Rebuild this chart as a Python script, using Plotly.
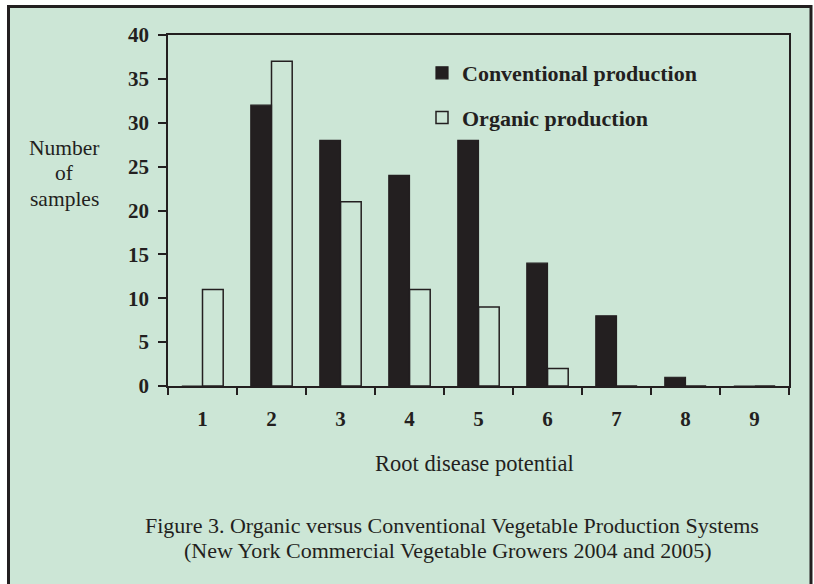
import plotly.graph_objects as go

categories = ["1", "2", "3", "4", "5", "6", "7", "8", "9"]
conventional = [0, 32, 28, 24, 28, 14, 8, 1, 0]
organic = [11, 37, 21, 11, 9, 2, 0, 0, 0]
y_ticks = [0, 5, 10, 15, 20, 25, 30, 35, 40]

BG = "#cce6d6"
INK = "#231f20"
SERIF = "Liberation Serif"

fig = go.Figure()
fig.add_trace(go.Bar(
    x=categories, y=conventional, name="Conventional production",
    marker=dict(color=INK, line=dict(color=INK, width=1.2)),
    legendgroup="a",
))
fig.add_trace(go.Bar(
    x=categories, y=organic, name="Organic production",
    marker=dict(color="rgba(0,0,0,0)", line=dict(color=INK, width=1.5)),
    legendgroup="b",
))

L, R, T, B = 168, 25, 35, 198
W, H = 814, 584
pw, ph = W - L - R, H - T - B


def px_x(p):
    return (p - L) / pw


def px_y(p):
    return (H - B - p) / ph


def note(text, x, y, size=21.5):
    return dict(text=text, xref="paper", yref="paper", x=px_x(x), y=px_y(y),
                xanchor="center", yanchor="middle", showarrow=False,
                font=dict(size=size, family=SERIF, color=INK))


fig.update_layout(
    width=W, height=H,
    margin=dict(l=L, r=R, t=T, b=B, pad=0),
    paper_bgcolor="white",
    plot_bgcolor="rgba(0,0,0,0)",
    barmode="group", bargap=0.4, bargroupgap=0,
    font=dict(family=SERIF, color=INK),
    showlegend=True,
    legend=dict(
        x=px_x(422), y=px_y(52), xanchor="left", yanchor="top",
        bgcolor="rgba(0,0,0,0)",
        font=dict(size=22, weight="bold", family=SERIF, color=INK),
        tracegroupgap=13, itemwidth=30,
    ),
    xaxis=dict(
        type="category", tickson="boundaries", ticks="outside", ticklen=7,
        tickcolor=INK, tickwidth=1.5, showline=True, linecolor=INK, linewidth=1.5,
        mirror=True, showgrid=False, zeroline=False,
        tickfont=dict(size=21, weight="bold", family=SERIF, color=INK),
        ticklabelstandoff=13,
    ),
    yaxis=dict(
        range=[0, 40], tickvals=y_ticks, ticks="outside", ticklen=8,
        tickcolor=INK, tickwidth=1.5, showline=True, linecolor=INK, linewidth=1.5,
        mirror=True, showgrid=False, zeroline=False,
        tickfont=dict(size=21, weight="bold", family=SERIF, color=INK),
        ticklabelstandoff=5,
    ),
    shapes=[
        dict(type="rect", xref="paper", yref="paper", layer="below",
             x0=px_x(8.5), x1=px_x(811), y0=px_y(600), y1=px_y(6.5),
             fillcolor=BG, line=dict(color=INK, width=3)),
    ],
    annotations=[
        note("Number", 64, 148),
        note("of", 64, 173),
        note("samples", 64, 199),
        note("Root disease potential", 474, 463, 22.5),
        note("Figure 3. Organic versus Conventional Vegetable Production Systems", 452, 525, 22),
        note("(New York Commercial Vegetable Growers 2004 and 2005)", 447, 550, 22),
    ],
)

fig.write_html(
    "out.html",
    config={"displayModeBar": False},
    post_script="document.body.style.margin='0';document.body.style.padding='0';"
                "document.documentElement.style.overflow='hidden';",
)
